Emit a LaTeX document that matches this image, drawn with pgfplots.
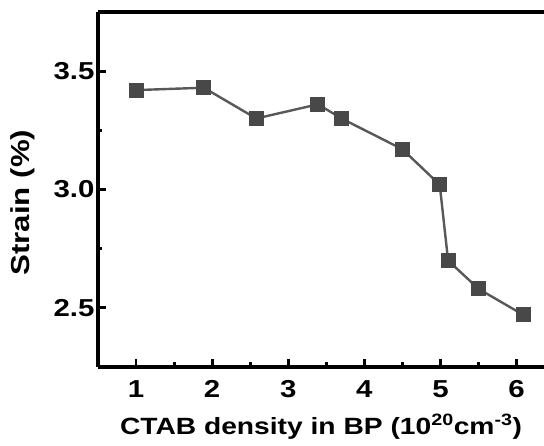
\documentclass[border=0pt]{standalone}
\usepackage{fontspec}
\setmainfont[FakeStretch=1.2]{Liberation Sans}
\usepackage{pgfplots}
\pgfplotsset{compat=1.18}
\definecolor{ptgray}{RGB}{72,72,72}
\definecolor{lngray}{RGB}{88,88,88}

\begin{document}
\begin{tikzpicture}
\begin{axis}[
  name=ax,
  scale only axis,
  width=446pt, height=355pt,
  xmin=0.5, xmax=6.36,
  ymin=2.25, ymax=3.75,
  axis x line*=box, axis y line*=left,
  axis line style={line width=3.4pt},
  xtick={1,2,3,4,5,6},
  ytick={2.5,3.0,3.5},
  minor xtick={1.5,2.5,3.5,4.5,5.5},
  minor ytick={2.75,3.25,3.75},
  xtick pos=bottom, ytick pos=left,
  tick align=inside,
  major tick length=8pt, minor tick length=4.5pt,
  every tick/.style={black, line width=2.8pt},
  yticklabel style={/pgf/number format/.cd,fixed,fixed zerofill,precision=1},
  /pgf/number format/assume math mode=true,
  tick label style={font=\fontsize{24.5}{28}\selectfont\bfseries},
  xticklabel shift=10pt,
  label style={font=\fontsize{23.5}{28}\selectfont\bfseries},
  xlabel={CTAB density in BP (10\textsuperscript{20}cm\textsuperscript{-3})},
  ylabel={Strain (\%)},
  xlabel style={at={(axis description cs:0.5,0)}, anchor=base, yshift=-68pt},
  ylabel style={at={(axis description cs:-0.168,0.463)}, anchor=center,
    font=\fontsize{26}{30}\selectfont\bfseries},
  clip=false,
]
\addplot[color=lngray, line width=2.4pt, mark=square*,
  mark size=7pt, mark options={fill=ptgray, draw=ptgray, line width=0pt}]
  coordinates {
  (1.00,3.42) (1.89,3.43) (2.58,3.30) (3.39,3.36) (3.70,3.30)
  (4.50,3.17) (4.99,3.02) (5.10,2.70) (5.50,2.58) (6.09,2.47)
  };
\end{axis}
\pgfresetboundingbox
\path ([xshift=-98pt,yshift=-79pt]ax.south west) rectangle ([yshift=12pt]ax.north east);
\end{tikzpicture}
\end{document}
